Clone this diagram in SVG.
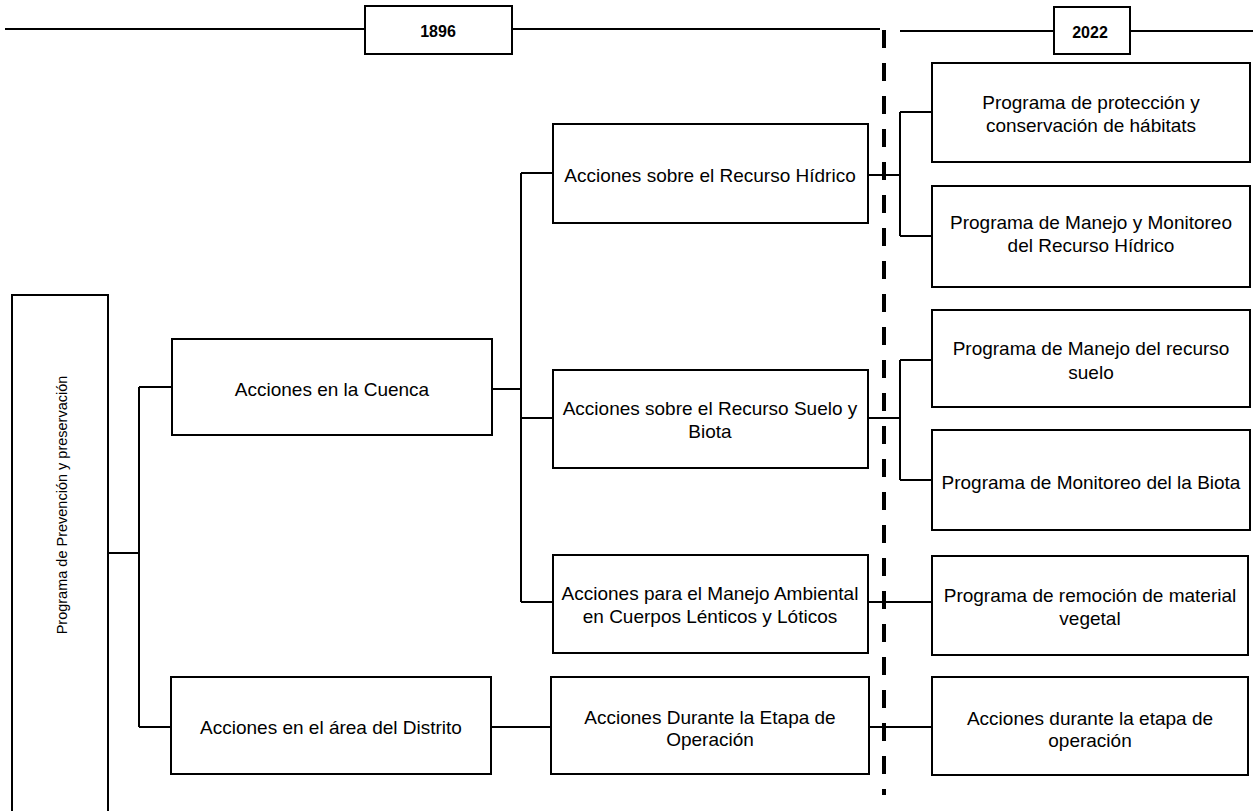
<svg xmlns="http://www.w3.org/2000/svg" width="1253" height="811" viewBox="0 0 1253 811">
<style>
.box{fill:#fff;stroke:#000;stroke-width:2}
.t{font-family:"Liberation Sans",Arial,sans-serif;font-size:19px;fill:#000;text-anchor:middle;dominant-baseline:central}
.yr{font-family:"Liberation Sans",Arial,sans-serif;font-size:16px;font-weight:bold;fill:#000;text-anchor:middle}
.c{fill:none;stroke:#000;stroke-width:2}
.dash{fill:none;stroke:#000;stroke-width:4;stroke-dasharray:18 15}
</style>
<rect width="1253" height="811" fill="#fff"/>
<g id="connectors">
<path class="c" d="M5 29H365M512 29H880M900 31H1054M1130 31H1253"/>
<path class="c" d="M108 553H139M139 387V727M139 387H172M139 727H171"/>
<path class="c" d="M492 389H521M521 173V602M521 173H553M521 418H553M521 602H553"/>
<path class="c" d="M868 175H900M900 112V236M900 112H932M900 236H932"/>
<path class="c" d="M868 418H900M900 360V480M900 360H932M900 480H932"/>
<path class="c" d="M868 602H932M869 727H932M491 727H551"/>
<path class="dash" d="M884 30V795"/>
</g>
<g id="year1896"><rect class="box" x="365" y="6" width="147" height="48"/><text class="yr" x="438" y="37">1896</text></g>
<g id="year2022"><rect class="box" x="1054" y="7" width="76" height="47"/><text class="yr" x="1090" y="38">2022</text></g>
<g id="root"><rect class="box" x="12" y="295" width="96" height="530"/><text class="t" style="font-size:14.5px" transform="translate(62 505) rotate(-90)" x="0" y="0">Programa de Prevención y preservación</text></g>
<g id="cuenca"><rect class="box" x="172" y="339" width="320" height="96"/><text class="t" x="332" y="389">Acciones en la Cuenca</text></g>
<g id="distrito"><rect class="box" x="171" y="677" width="320" height="97"/><text class="t" x="331" y="727">Acciones en el área del Distrito</text></g>
<g id="hidrico"><rect class="box" x="553" y="124" width="315" height="99"/><text class="t" x="710" y="175">Acciones sobre el Recurso Hídrico</text></g>
<g id="suelo"><rect class="box" x="553" y="370" width="315" height="98"/><text class="t" x="710" y="408">Acciones sobre el Recurso Suelo y</text><text class="t" x="710" y="431">Biota</text></g>
<g id="lenticos"><rect class="box" x="553" y="555" width="315" height="98"/><text class="t" x="710" y="593">Acciones para el Manejo Ambiental</text><text class="t" x="710" y="616">en Cuerpos Lénticos y Lóticos</text></g>
<g id="operacion"><rect class="box" x="551" y="677" width="318" height="97"/><text class="t" x="710" y="717">Acciones Durante la Etapa de</text><text class="t" x="710" y="739">Operación</text></g>
<g id="r1"><rect class="box" x="932" y="63" width="318" height="99"/><text class="t" x="1091" y="102">Programa de protección y</text><text class="t" x="1091" y="125">conservación de hábitats</text></g>
<g id="r2"><rect class="box" x="932" y="186" width="318" height="101"/><text class="t" x="1091" y="222">Programa de Manejo y Monitoreo</text><text class="t" x="1091" y="245">del Recurso Hídrico</text></g>
<g id="r3"><rect class="box" x="932" y="310" width="318" height="97"/><text class="t" x="1091" y="348">Programa de Manejo del recurso</text><text class="t" x="1091" y="372">suelo</text></g>
<g id="r4"><rect class="box" x="932" y="430" width="318" height="100"/><text class="t" x="1091" y="482">Programa de Monitoreo del la Biota</text></g>
<g id="r5"><rect class="box" x="932" y="556" width="316" height="99"/><text class="t" x="1090" y="595">Programa de remoción de material</text><text class="t" x="1090" y="618">vegetal</text></g>
<g id="r6"><rect class="box" x="932" y="677" width="316" height="98"/><text class="t" x="1090" y="718">Acciones durante la etapa de</text><text class="t" x="1090" y="740">operación</text></g>
</svg>
